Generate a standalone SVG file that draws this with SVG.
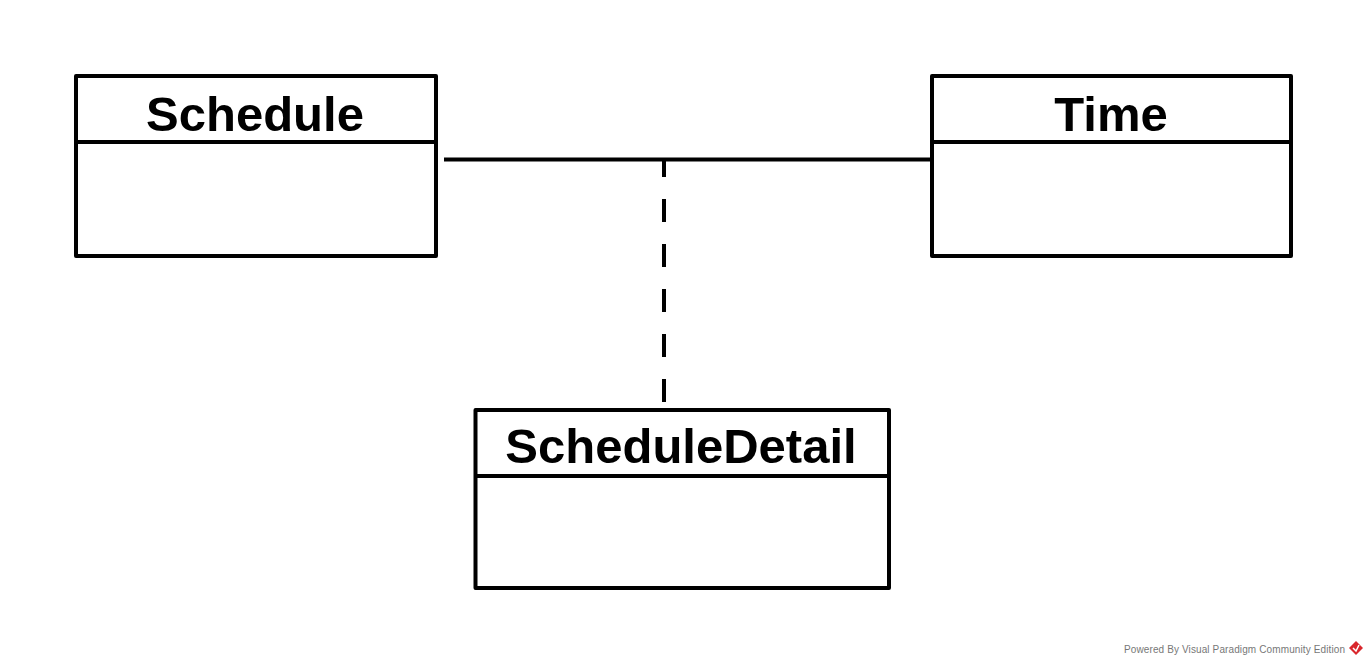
<svg xmlns="http://www.w3.org/2000/svg" width="1368" height="666" viewBox="0 0 1368 666">
<style>
.box{fill:#fff;stroke:#000;stroke-width:4;stroke-linejoin:round}
.sep{stroke:#000;stroke-width:4}
.name{font-family:"Liberation Sans",Arial,sans-serif;font-weight:bold;font-size:49px;fill:#000;text-anchor:middle}
.conn{stroke:#000;stroke-width:4;fill:none}
.footer{font-family:"Liberation Sans",Arial,sans-serif;font-size:10px;fill:#777}
</style>
<rect width="1368" height="666" fill="#fff"/>
<g id="connectors">
<line class="conn" x1="444" y1="159.5" x2="932" y2="159.5"/>
<line class="conn" x1="664" y1="160" x2="664" y2="403" stroke-dasharray="23 22" stroke-dashoffset="6"/>
</g>
<g id="Schedule">
<rect class="box" x="76" y="76" width="360" height="180"/>
<line class="sep" x1="76" y1="142" x2="436" y2="142"/>
<text class="name" x="255" y="131">Schedule</text>
</g>
<g id="Time">
<rect class="box" x="932" y="76" width="359" height="180"/>
<line class="sep" x1="932" y1="142" x2="1291" y2="142"/>
<text class="name" x="1111" y="131">Time</text>
</g>
<g id="ScheduleDetail">
<rect class="box" x="475.5" y="410" width="413.5" height="178"/>
<line class="sep" x1="475.5" y1="476" x2="889" y2="476"/>
<text class="name" x="681" y="463">ScheduleDetail</text>
</g>
<g id="footer">
<text class="footer" x="1124" y="653" textLength="221" lengthAdjust="spacing">Powered By Visual Paradigm Community Edition</text>
<polygon points="1356,641 1363,648 1356,655 1349,648" fill="#d9262c"/>
<polyline points="1353,648 1356,651 1359,645" fill="none" stroke="#fff" stroke-width="1.5"/>
</g>
</svg>
